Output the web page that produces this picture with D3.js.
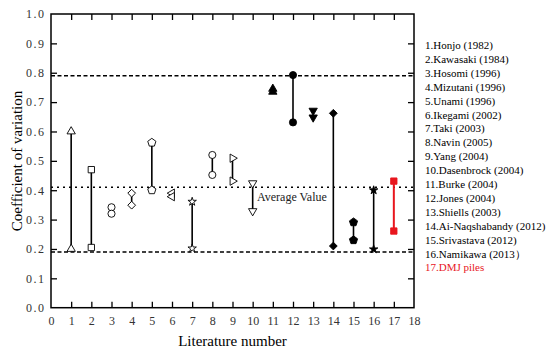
<!DOCTYPE html>
<html>
<head>
<meta charset="utf-8">
<script src="https://cdn.jsdelivr.net/npm/d3@7"></script>
<style>
  html, body { margin: 0; padding: 0; background: #fff; }
  svg { display: block; }
  svg text { font-family: "Liberation Serif", "Times New Roman", serif !important; }
</style>
</head>
<body>
<svg id="chart" width="550" height="355"></svg>
<script>
// ---- data ----
const literature = [1, 2, 3, 4, 5, 6, 7, 8, 9, 10, 11, 12, 13, 14, 15, 16, 17];
const upperCV = [0.60, 0.47, 0.342, 0.39, 0.562, 0.39, 0.361, 0.52, 0.509, 0.424, 0.745, 0.792, 0.671, 0.662, 0.291, 0.40, 0.431];
const lowerCV = [0.20, 0.205, 0.32, 0.349, 0.40, 0.378, 0.202, 0.452, 0.431, 0.329, 0.735, 0.631, 0.648, 0.21, 0.23, 0.199, 0.261];
const markerShape = ["triangle", "square", "circle", "diamond", "pentagon", "triangleLeft", "star", "circle", "triangleRight", "triangleDown",
                     "triangle", "circle", "triangleDown", "diamond", "pentagon", "star", "square"];
const markerFilled = [false, false, false, false, false, false, false, false, false, false,
                      true, true, true, true, true, true, true];
const drawLine = [true, true, false, true, true, false, true, true, true, true, false, true, false, true, true, true, true];
const refLines = [0.79, 0.41, 0.19];
const refStyle = ["dashed", "dotted", "dashed"];
const legendLabels = ["1.Honjo (1982)", "2.Kawasaki (1984)", "3.Hosomi (1996)", "4.Mizutani (1996)", "5.Unami (1996)",
  "6.Ikegami (2002)", "7.Taki (2003)", "8.Navin (2005)", "9.Yang (2004)", "10.Dasenbrock (2004)", "11.Burke (2004)",
  "12.Jones (2004)", "13.Shiells (2003)", "14.Ai-Naqshabandy (2012)", "15.Srivastava (2012)", "16.Namikawa (2013）", "17.DMJ piles"];
const xTicks = d3.range(0, 19, 1);
const yTicks = d3.range(0, 1.01, 0.1);
const xTitle = "Literature number";
const yTitle = "Coefficient of variation";
const annotation = "Average Value";

// ---- layout ----
const FONT = '"Liberation Serif", "Times New Roman", serif';
const L = 51, R = 414, T = 14, B = 307.7;
const RED = "#e8161e";
const svg = d3.select("#chart");
const x = d3.scaleLinear().domain([0, 18]).range([L, R]);
const y = d3.scaleLinear().domain([0, 1]).range([B, T]);

// axes (inward ticks)
const fmt = d3.format(".1f");
const gl = svg.append("g").attr("transform", `translate(${L},0)`)
  .call(d3.axisLeft(y).tickValues(yTicks).tickSize(-6).tickPadding(7).tickFormat(fmt));
const gb = svg.append("g").attr("transform", `translate(0,${B})`)
  .call(d3.axisBottom(x).tickValues(xTicks).tickSize(-6).tickPadding(9).tickFormat(d3.format("d")));
const gt = svg.append("g").attr("transform", `translate(0,${T})`)
  .call(d3.axisTop(x).tickValues(xTicks).tickSize(-6).tickFormat(""));
const gr = svg.append("g").attr("transform", `translate(${R},0)`)
  .call(d3.axisRight(y).tickValues(yTicks).tickSize(-6).tickFormat(""));
[gl, gb, gt, gr].forEach(g => {
  g.attr("font-family", FONT).attr("font-size", 12);
  g.select(".domain").remove();
  g.selectAll(".tick line").attr("stroke", "#000").attr("stroke-width", 1.3);
  g.selectAll("text").attr("fill", "#333");
});
gl.selectAll("text").style("letter-spacing", "1.5px").attr("dx", 1.5);
gb.selectAll(".tick").filter(d => d === 0 || d === 18).select("line").remove();
gt.selectAll(".tick").filter(d => d === 0 || d === 18).remove();
gl.selectAll(".tick").filter(d => d === 0 || Math.abs(d - 1) < 1e-9).select("line").remove();
gr.selectAll(".tick").filter(d => d === 0 || Math.abs(d - 1) < 1e-9).remove();

// reference lines
refLines.forEach((v, i) => {
  svg.append("line")
    .attr("x1", L).attr("x2", R).attr("y1", y(v)).attr("y2", y(v))
    .attr("stroke", "#000").attr("stroke-width", 1.5)
    .attr("stroke-dasharray", refStyle[i] === "dashed" ? "4,2.5" : "2,4");
});

// frame
svg.append("rect").attr("x", L).attr("y", T).attr("width", R - L).attr("height", B - T)
  .attr("fill", "none").attr("stroke", "#000").attr("stroke-width", 1.5);

// range lines
literature.forEach((n, i) => {
  if (!drawLine[i]) return;
  svg.append("line")
    .attr("x1", x(n)).attr("x2", x(n))
    .attr("y1", y(upperCV[i])).attr("y2", y(lowerCV[i]))
    .attr("stroke", n === 17 ? RED : "#000").attr("stroke-width", n === 17 ? 2 : 1.6);
});

// markers
function pentagon(r) {
  const pts = d3.range(5).map(k => {
    const a = -Math.PI / 2 + k * 2 * Math.PI / 5;
    return [r * Math.cos(a), r * Math.sin(a)];
  });
  return "M" + pts.map(p => p.join(",")).join("L") + "Z";
}
function markerPath(shape) {
  switch (shape) {
    case "triangle": case "triangleLeft": case "triangleRight": case "triangleDown":
      return d3.symbol(d3.symbolTriangle, 30)();
    case "square": return d3.symbol(d3.symbolSquare, 40)();
    case "circle": return d3.symbol(d3.symbolCircle, 40)();
    case "diamond": return d3.symbol(d3.symbolSquare, 30)();
    case "star": return d3.symbol(d3.symbolStar, 22)();
    case "pentagon": return pentagon(4.3);
  }
}
function markerRot(shape) {
  return shape === "triangleLeft" ? -90 : shape === "triangleRight" ? 90 :
         shape === "triangleDown" ? 180 : shape === "diamond" ? 45 : 0;
}
literature.forEach((n, i) => {
  const shape = markerShape[i];
  const col = n === 17 ? RED : "#000";
  [upperCV[i], lowerCV[i]].forEach(v => {
    svg.append("path")
      .attr("d", markerPath(shape))
      .attr("transform", `translate(${x(n)},${y(v)}) rotate(${markerRot(shape)})`)
      .attr("fill", markerFilled[i] ? col : "#fff")
      .attr("stroke", col).attr("stroke-width", 0.9);
  });
});

// annotation
svg.append("text").attr("x", 257).attr("y", 201).attr("font-size", 12)
  .attr("font-family", FONT).attr("fill", "#222").text(annotation);

// titles
svg.append("text").attr("x", 232.5).attr("y", 345.5).attr("text-anchor", "middle")
  .attr("font-family", FONT).attr("font-size", 15).text(xTitle);
svg.append("text").attr("transform", "translate(22,161) rotate(-90)").attr("text-anchor", "middle")
  .attr("font-family", FONT).attr("font-size", 15).text(yTitle);

// legend
svg.append("g").selectAll("text").data(legendLabels).join("text")
  .attr("x", 425).attr("y", (d, i) => 49 + i * 13.9)
  .attr("font-family", FONT).attr("font-size", 11)
  .attr("fill", (d, i) => i === 16 ? RED : "#000")
  .text(d => d);
</script>
</body>
</html>
